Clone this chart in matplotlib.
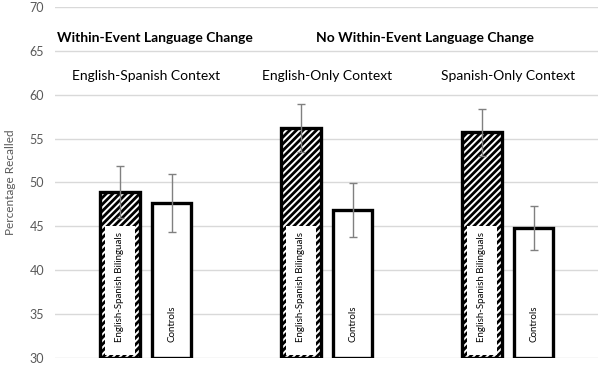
import numpy as np
import matplotlib.pyplot as plt
from matplotlib.patches import Rectangle

contexts = ["English-Spanish Context", "English-Only Context", "Spanish-Only Context"]
bilinguals = [48.9, 56.2, 55.7]
bilinguals_err = [3.0, 2.7, 2.65]
controls = [47.65, 46.85, 44.8]
controls_err = [3.3, 3.05, 2.5]
group_titles = ["Within-Event Language Change", "No Within-Event Language Change"]

plt.rcParams["font.family"] = ["Lato", "DejaVu Sans"]
plt.rcParams["hatch.linewidth"] = 2.0

fig = plt.figure(figsize=(6, 3.65), dpi=100)
ax = fig.add_axes([0.092, 0.019, 0.905, 0.962])

x = np.arange(len(contexts))
w = 0.22
off = 0.143
grey = "#808080"

ax.bar(x - off, [b - 30 for b in bilinguals], w, bottom=30, color="white",
       edgecolor="black", linewidth=2.4, hatch="/////", zorder=2)
ax.bar(x + off, [c - 30 for c in controls], w, bottom=30, color="white",
       edgecolor="black", linewidth=2.4, zorder=2)
ax.errorbar(x - off, bilinguals, yerr=bilinguals_err, fmt="none",
            ecolor=grey, elinewidth=1, capsize=3, zorder=4)
ax.errorbar(x + off, controls, yerr=controls_err, fmt="none",
            ecolor=grey, elinewidth=1, capsize=3, zorder=4)

# in-bar labels with white backing on the hatched bars
for xi in x:
    ax.add_patch(Rectangle((xi - off - w * 0.38, 30.35), w * 0.76, 14.65,
                           facecolor="white", edgecolor="none", zorder=3))
    ax.text(xi - off, 31.8, "English-Spanish Bilinguals", rotation=90,
            ha="center", va="bottom", fontsize=7, zorder=5)
    ax.text(xi + off, 31.8, "Controls", rotation=90,
            ha="center", va="bottom", fontsize=7, zorder=5)

for xi, c in zip(x, contexts):
    ax.text(xi, 62.1, c, ha="center", va="center", fontsize=10)

ax.text(-0.49, 66.5, group_titles[0], ha="left", va="center",
        fontsize=10, fontweight="bold")
ax.text(1.544, 66.5, group_titles[1], ha="center", va="center",
        fontsize=10, fontweight="bold")

ax.set_xlim(-0.5, 2.5)
ax.set_ylim(30, 70)
ax.set_yticks(range(30, 71, 5))
ax.set_xticks([])
ax.yaxis.grid(True, color="#d9d9d9", linewidth=1)
ax.set_axisbelow(True)
for s in ax.spines.values():
    s.set_visible(False)
ax.tick_params(axis="y", length=0, labelsize=9, labelcolor="#595959", pad=8)
ax.set_ylabel("Percentage Recalled", fontsize=8.5, color="#595959", labelpad=10)

fig.savefig("out.png", dpi=100)
